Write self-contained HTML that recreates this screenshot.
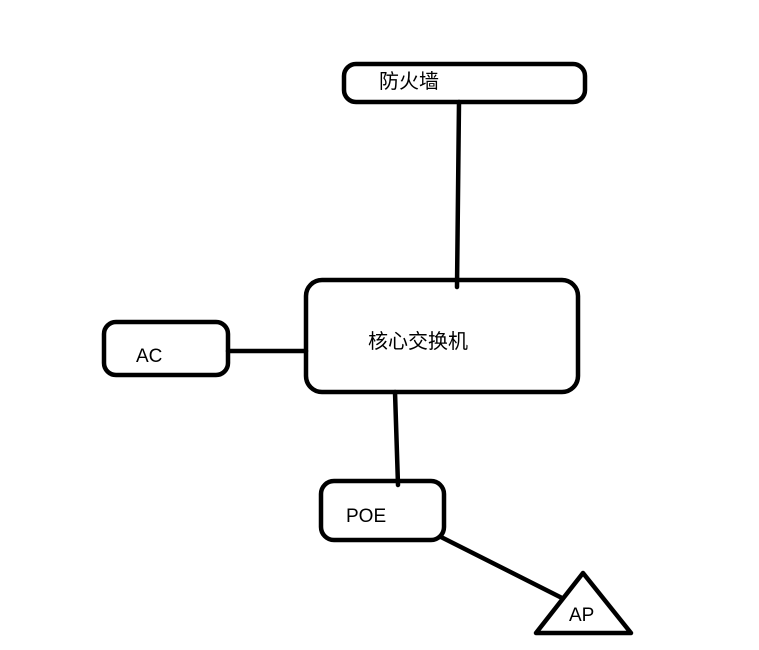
<!DOCTYPE html>
<html><head><style>body{margin:0;background:#fff}</style></head><body>
<svg width="759" height="650" xmlns="http://www.w3.org/2000/svg" style="display:block">
<rect width="759" height="650" fill="#fff"/>
<g fill="none" stroke="#000" stroke-width="4.5" stroke-linecap="round" stroke-linejoin="round">
<rect x="344" y="64" width="241" height="38" rx="12"/>
<rect x="306" y="280" width="272" height="112" rx="16"/>
<rect x="104" y="322" width="124" height="53" rx="12"/>
<rect x="321" y="481" width="123" height="59" rx="13"/>
<polygon points="583,573 536,633 631,633"/>
<line x1="459" y1="102" x2="457" y2="287"/>
<line x1="228" y1="351" x2="306" y2="351"/>
<line x1="395" y1="392" x2="398" y2="485"/>
<line x1="441" y1="537" x2="562" y2="598"/>
</g>
<g font-family="Liberation Sans, Noto Sans CJK SC, sans-serif" font-size="19" fill="#000">
<text x="379" y="88" font-size="20">防火墙</text>
<text x="368" y="348" font-size="20">核心交换机</text>
<text x="136" y="362">AC</text>
<text x="346" y="522">POE</text>
<text x="569" y="621">AP</text>
</g>
</svg>
</body></html>
